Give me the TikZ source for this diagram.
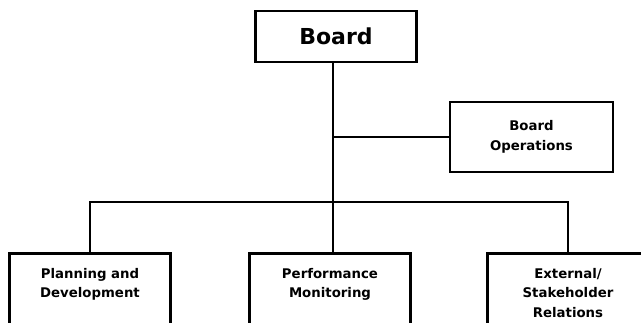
\documentclass[tikz,border=0pt]{standalone}
\usepackage{fontspec}
\setmainfont{DejaVu Sans}
\usetikzlibrary{positioning}

\tikzset{
  orgbox/.style={draw, line width=2.6pt, minimum width=161pt, align=center,
    font=\bfseries\fontsize{13.3}{19.5}\selectfont},
  unitbox/.style={orgbox, anchor=north, text height=13.6pt, text depth=75pt, inner ysep=11.4pt},
  link/.style={line width=2.4pt}
}
\newcommand{\unitlines}[1]{\begin{tabular}[t]{@{}c@{}}#1\end{tabular}}

\begin{document}
\begin{tikzpicture}[x=1pt,y=-1pt]
  \useasboundingbox (0,0) rectangle (641,322);
  \clip (0,0) rectangle (641,322);

  % top of the chart
  \node[orgbox, minimum height=51pt, font=\bfseries\fontsize{22}{24}\selectfont] (board) at (336,36.5) {Board};
  \node[orgbox, minimum width=163pt, minimum height=70pt] (ops) at (531.5,137) {Board\\Operations};

  % units
  \node[unitbox] (plan) at (90,252) {\unitlines{Planning and\\Development}};
  \node[unitbox] (perf) at (330,252) {\unitlines{Performance\\Monitoring}};
  \node[unitbox] (ext) at (568,252) {\unitlines{External/\\Stakeholder\\Relations}};

  % connectors
  \coordinate (trunk) at (333,202);
  \draw[link] (board.south -| trunk) -- (trunk |- perf.north);
  \draw[link] (ops.west) -- (ops.west -| trunk);
  \draw[link] (plan.north) |- (trunk) -| (ext.north);
\end{tikzpicture}
\end{document}
